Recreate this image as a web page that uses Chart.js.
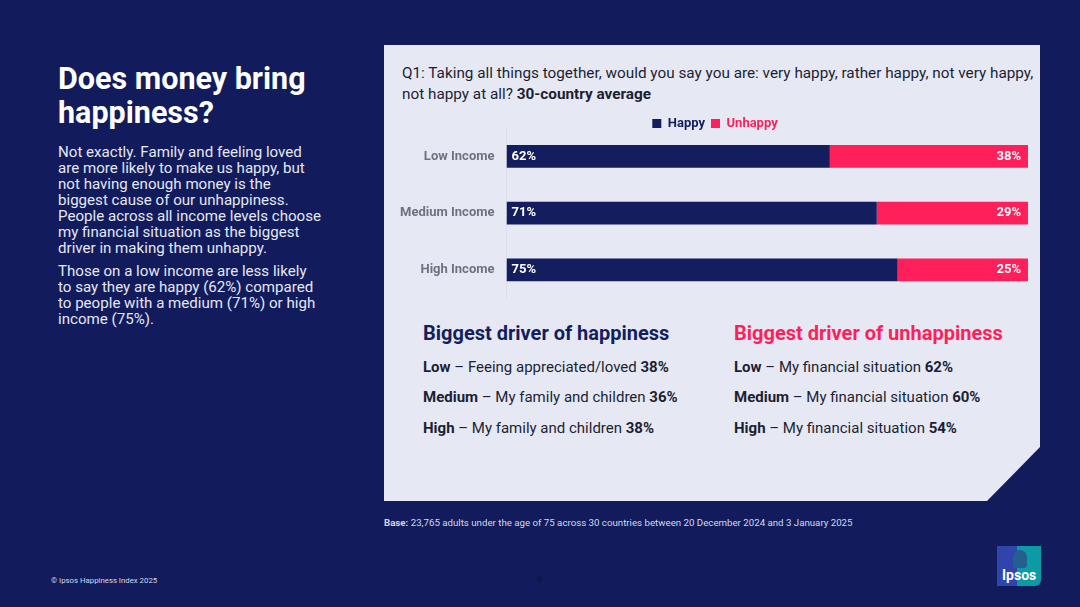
<!DOCTYPE html>
<html>
<head>
<meta charset="utf-8">
<title>Does money bring happiness?</title>
<script src="https://cdn.jsdelivr.net/npm/chart.js@4/dist/chart.umd.min.js"></script>
<style>
  html, body { margin: 0; padding: 0; }
  body { width: 1080px; height: 607px; background: #121c5c; overflow: hidden; position: relative; font-family: Roboto, sans-serif; }
  .txt { position: absolute; white-space: nowrap; }
  #title { left: 58px; top: 62px; font-size: 30.5px; line-height: 34px; font-weight: 700; color: #fff; }
  .body { left: 58px; font-size: 15.1px; line-height: 16px; color: #e4e7f2; }
  #panel { position: absolute; left: 384px; top: 45px; width: 656px; height: 456px; background: #e6e9f3;
    clip-path: polygon(0 0, 100% 0, 100% 402px, 603px 100%, 0 100%); }
  #chartBox { position: absolute; left: 384px; top: 99px; width: 656px; height: 219px; }
  #question { left: 402px; top: 63px; font-size: 15.3px; line-height: 20.5px; color: #1c1f33; }
  h3 { position: absolute; margin: 0; font-size: 20px; line-height: 24px; font-weight: 700; white-space: nowrap; }
  .row { font-size: 15px; line-height: 20px; color: #1c1f33; }
  #base { left: 384px; top: 517px; font-size: 9.7px; line-height: 12px; color: #d4d8e8; }
  #copy { left: 51px; top: 575px; font-size: 7.8px; line-height: 12px; color: #d4d8e8; }
  #page { left: 537px; top: 574px; font-size: 9px; line-height: 12px; color: #0b1242; }
  #logo { position: absolute; left: 997px; top: 546px; width: 44px; height: 40px;
    background: linear-gradient(90deg, #2f45ab 0 46%, #0b9ba5 46% 100%); border-radius: 0 0 6px 0; }
  #logo span { position: absolute; left: 5px; top: 20px; font-size: 14px; line-height: 18px; font-weight: 700; color: #fff; }
  #logo i { position: absolute; left: 16px; top: 4px; width: 14px; height: 18px; background: #24608f; border-radius: 7px 7px 3px 3px; }
</style>
</head>
<body>
<div class="txt" id="title">Does money bring<br>happiness?</div>
<div class="txt body" style="top:144px">Not exactly. Family and feeling loved<br>are more likely to make us happy, but<br>not having enough money is the<br>biggest cause of our unhappiness.<br>People across all income levels choose<br>my financial situation as the biggest<br>driver in making them unhappy.</div>
<div class="txt body" style="top:263px">Those on a low income are less likely<br>to say they are happy (62%) compared<br>to people with a medium (71%) or high<br>income (75%).</div>

<div id="panel"></div>
<div class="txt" id="question">Q1: Taking all things together, would you say you are: very happy, rather happy, not very happy,<br>not happy at all? <b>30-country average</b></div>
<div id="chartBox"><canvas id="myChart"></canvas></div>

<h3 style="left:423px;top:321px;color:#141e5f">Biggest driver of happiness</h3>
<h3 style="left:734px;top:321px;color:#ff1f5a">Biggest driver of unhappiness</h3>
<div class="txt row" style="left:423px;top:357px"><b>Low</b> – Feeing appreciated/loved <b>38%</b></div>
<div class="txt row" style="left:423px;top:387px"><b>Medium</b> – My family and children <b>36%</b></div>
<div class="txt row" style="left:423px;top:418px"><b>High</b> – My family and children <b>38%</b></div>
<div class="txt row" style="left:734px;top:357px"><b>Low</b> – My financial situation <b>62%</b></div>
<div class="txt row" style="left:734px;top:387px"><b>Medium</b> – My financial situation <b>60%</b></div>
<div class="txt row" style="left:734px;top:418px"><b>High</b> – My financial situation <b>54%</b></div>

<div class="txt" id="base"><b>Base:</b> 23,765 adults under the age of 75 across 30 countries between 20 December 2024 and 3 January 2025</div>
<div class="txt" id="copy">© Ipsos Happiness Index 2025</div>
<div class="txt" id="page">8</div>
<div id="logo"><i></i><span>Ipsos</span></div>

<script>
const categories = ['Low Income', 'Medium Income', 'High Income'];
const happyValues = [62, 71, 75];
const unhappyValues = [38, 29, 25];
const happyColor = '#141e5f';
const unhappyColor = '#ff1f5a';

// writes the % inside each bar: happy at the left end, unhappy at the right end
const barLabels = {
    id: 'barLabels',
    afterDatasetsDraw(chart) {
        const ctx = chart.ctx;
        ctx.save();
        ctx.font = '700 13px Roboto';
        ctx.fillStyle = '#ffffff';
        ctx.textBaseline = 'middle';
        chart.data.datasets.forEach((ds, i) => {
            chart.getDatasetMeta(i).data.forEach((bar, j) => {
                if (i === 0) {
                    ctx.textAlign = 'left';
                    ctx.fillText(ds.data[j] + '%', bar.base + 5, bar.y);
                } else {
                    ctx.textAlign = 'right';
                    ctx.fillText(ds.data[j] + '%', bar.x - 7, bar.y);
                }
            });
        });
        ctx.restore();
    }
};

// the legend sits tighter to the plot than the layout allows, so nudge it after fitting
const legendNudge = {
    id: 'legendNudge',
    afterLayout(chart) {
        chart.legend.top += 12;
        chart.legend.bottom += 12;
        chart.legend.left += 9;
        chart.legend.right += 9;
    }
};

new Chart(document.getElementById('myChart').getContext('2d'), {
    type: 'bar',
    plugins: [barLabels, legendNudge],
    data: {
        labels: categories,
        datasets: [
            { label: 'Happy', data: happyValues, backgroundColor: happyColor },
            { label: 'Unhappy', data: unhappyValues, backgroundColor: unhappyColor }
        ]
    },
    options: {
        indexAxis: 'y',
        responsive: true,
        maintainAspectRatio: false,
        animation: false,
        layout: { padding: { top: 0, right: 12, bottom: 8, left: 0 } },
        plugins: {
            tooltip: { enabled: false },
            legend: {
                position: 'top',
                labels: {
                    boxWidth: 9,
                    boxHeight: 9,
                    padding: 6,
                    font: { family: 'Roboto', size: 13, weight: '700' },
                    generateLabels(chart) {
                        return chart.data.datasets.map((ds, i) => ({
                            text: ds.label,
                            fillStyle: ds.backgroundColor,
                            strokeStyle: ds.backgroundColor,
                            lineWidth: 0,
                            fontColor: ds.backgroundColor,
                            datasetIndex: i
                        }));
                    }
                }
            }
        },
        scales: {
            x: { stacked: true, min: 0, max: 100, display: false },
            y: {
                stacked: true,
                afterFit(axis) { axis.width = 122.5; },
                grid: { drawOnChartArea: false, drawTicks: false, color: '#dcdfea' },
                border: { color: '#dcdfea' },
                ticks: { color: '#6f7180', padding: 12, font: { family: 'Roboto', size: 13, weight: '700' } }
            }
        },
        datasets: { bar: { barPercentage: 0.8, categoryPercentage: 0.5 } }
    }
});
</script>
</body>
</html>
